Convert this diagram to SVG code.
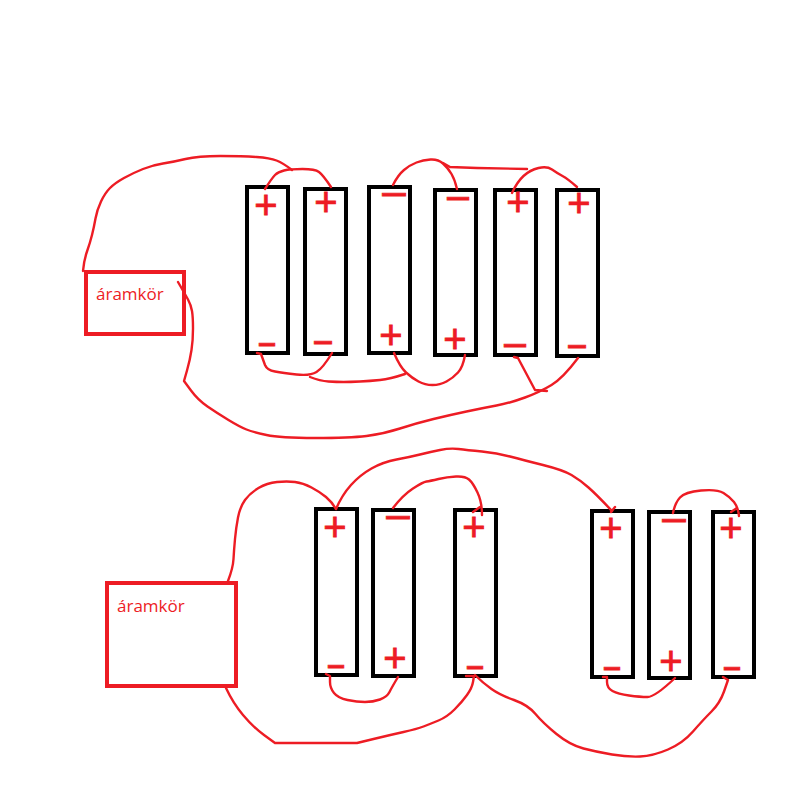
<svg xmlns="http://www.w3.org/2000/svg" width="800" height="794" viewBox="0 0 800 794">
<style>
.bg{fill:#fff}
.cell{fill:#fff;stroke:#000;stroke-width:4}
.box{fill:#fff;stroke:#ed1c24;stroke-width:4}
.sign{font-family:"Liberation Sans",Arial,sans-serif;font-size:40px;fill:#ed1c24;stroke:#ed1c24;stroke-width:.8;text-anchor:middle}
.label{font-family:"Open Sans","Noto Sans",sans-serif;font-size:17px;fill:#ed1c24}
.wire{fill:none;stroke:#ed1c24;stroke-width:2.4;stroke-linejoin:round;stroke-linecap:round}
</style>
<rect class="bg" width="800" height="794"/>
<g id="circuit-1"><rect class="box" x="86" y="272" width="98" height="62"/><text class="label" x="96" y="300">áramkör</text></g>
<g id="cell-1"><rect class="cell" x="247" y="187" width="41" height="166"/><text class="sign" x="266" y="219">+</text><text class="sign" x="267" y="358" textLength="19" lengthAdjust="spacingAndGlyphs">−</text></g>
<g id="cell-2"><rect class="cell" x="305" y="189" width="41" height="165"/><text class="sign" x="326" y="216">+</text><text class="sign" x="323" y="356" textLength="21" lengthAdjust="spacingAndGlyphs">−</text></g>
<g id="cell-3"><rect class="cell" x="369" y="187" width="41" height="166"/><text class="sign" x="394" y="208" textLength="28" lengthAdjust="spacingAndGlyphs">−</text><text class="sign" x="391" y="349">+</text></g>
<g id="cell-4"><rect class="cell" x="435" y="190" width="41" height="165"/><text class="sign" x="458" y="212" textLength="26" lengthAdjust="spacingAndGlyphs">−</text><text class="sign" x="455" y="353">+</text></g>
<g id="cell-5"><rect class="cell" x="495" y="190" width="41" height="165"/><text class="sign" x="518" y="216">+</text><text class="sign" x="515" y="359" textLength="26" lengthAdjust="spacingAndGlyphs">−</text></g>
<g id="cell-6"><rect class="cell" x="557" y="190" width="41" height="166"/><text class="sign" x="579" y="217">+</text><text class="sign" x="577" y="360" textLength="21" lengthAdjust="spacingAndGlyphs">−</text></g>
<g id="circuit-2"><rect class="box" x="107" y="583" width="129" height="103"/><text class="label" x="117" y="612">áramkör</text></g>
<g id="cell-7"><rect class="cell" x="316" y="509" width="41" height="166"/><text class="sign" x="335" y="541">+</text><text class="sign" x="336" y="680" textLength="19" lengthAdjust="spacingAndGlyphs">−</text></g>
<g id="cell-8"><rect class="cell" x="373" y="510" width="41" height="166"/><text class="sign" x="398" y="531" textLength="28" lengthAdjust="spacingAndGlyphs">−</text><text class="sign" x="395" y="672">+</text></g>
<g id="cell-9"><rect class="cell" x="455" y="510" width="41" height="166"/><text class="sign" x="474" y="541">+</text><text class="sign" x="475" y="681" textLength="19" lengthAdjust="spacingAndGlyphs">−</text></g>
<g id="cell-10"><rect class="cell" x="592" y="511" width="41" height="166"/><text class="sign" x="611" y="542">+</text><text class="sign" x="612" y="682" textLength="19" lengthAdjust="spacingAndGlyphs">−</text></g>
<g id="cell-11"><rect class="cell" x="649" y="512" width="41" height="166"/><text class="sign" x="674" y="534" textLength="28" lengthAdjust="spacingAndGlyphs">−</text><text class="sign" x="671" y="675">+</text></g>
<g id="cell-12"><rect class="cell" x="713" y="512" width="41" height="165"/><text class="sign" x="731" y="542">+</text><text class="sign" x="732" y="682" textLength="19" lengthAdjust="spacingAndGlyphs">−</text></g>
<g id="connectors">
<path class="wire" d="M83,271 Q84,260 87,251.5 Q90,243 92,235 Q94,227 95.5,218.5 Q97,210 101,201.5 Q105,193 110,188 Q115,183 124,178 Q133,173 143,169 Q153,165 163,163.5 Q173,162 185.5,159 Q198,156 220.5,156 Q243,156 256.5,157 Q270,158 276.5,160.5 Q283,163 292,170"/>
<path class="wire" d="M265,189 Q272,178 275,175 Q278,172 284,170.5 Q290,169 302.5,169 Q315,169 319,172 Q323,175 331,187"/>
<path class="wire" d="M178,282 Q185,294 188,299.5 Q191,305 192,311 Q193,317 193,328.5 Q193,340 191.5,350 Q190,360 187,370.5 L184,381 L191,390.5 Q198,400 207.5,406.5 Q217,413 228.5,420 Q240,427 246.5,429.5 Q253,432 266.5,435 Q280,438 315,438 Q350,438 366.5,436 Q383,434 400,428.5 Q417,423 433.5,419 Q450,415 466.5,411.5 Q483,408 496.5,405.5 Q510,403 525,397.5 Q540,392 551.5,385 Q563,378 578,358"/>
<path class="wire" d="M514,357 L518,358 L535,390 L547,391"/>
<path class="wire" d="M257,353 L261,354 L265,365 Q267,370 275,371.5 Q283,373 296.5,374.5 Q310,376 316.5,372 Q323,368 332,353"/>
<path class="wire" d="M310,377 Q320,381 328.5,381.5 Q337,382 343.5,382 Q350,382 360,381.5 Q370,381 380,380 Q390,379 405,374"/>
<path class="wire" d="M394,353 Q400,367 406,372.5 Q412,378 418.5,381.5 Q425,385 432.5,385 Q440,385 446.5,381.5 Q453,378 458,372.5 Q463,367 465,355"/>
<path class="wire" d="M393,185 Q398,175 404,170 Q410,165 416.5,162.5 Q423,160 430.5,159.5 Q438,159 443,163.5 Q448,168 451.5,174 Q455,180 457,189"/>
<path class="wire" d="M443,163 L450,167 L477,168 L527,169"/>
<path class="wire" d="M512,193 Q517,182 523.5,176 Q530,170 538.5,168 Q547,166 552,169.5 Q557,173 562.5,176 Q568,179 577,187"/>
<path class="wire" d="M228,581 Q233,568 233.5,559 Q234,550 235,539 Q236,528 238,517.5 Q240,507 245,500 Q250,493 258.5,488 Q267,483 277,482 Q287,481 295,482 Q303,483 311.5,487.5 Q320,492 326,497 Q332,502 336,509"/>
<path class="wire" d="M336,509 Q342,495 351,485 Q360,475 371.5,468.5 Q383,462 396.5,459.5 Q410,457 420,454.5 Q430,452 440,450 Q450,448 458.5,449 Q467,450 482,451.5 Q497,453 510,456.5 Q523,460 543,465 Q563,470 571.5,475 Q580,480 588.5,487.5 Q597,495 612,511"/>
<path class="wire" d="M393,508 Q403,495 413,488.5 Q423,482 426.5,481.5 Q430,481 438.5,479 Q447,477 456,476.5 Q465,476 469,479.5 Q473,483 477.5,492.5 Q482,502 482,515"/>
<path class="wire" d="M473,512 L480,507"/>
<path class="wire" d="M226,688 Q233,703 243,715 Q253,727 264,735 L275,743 L357,743 L373.5,739 Q390,735 403.5,732 Q417,729 423.5,726.5 Q430,724 438.5,720.5 Q447,717 454.5,709.5 Q462,702 467,695 Q472,688 473,682 L474,676 L466,676"/>
<path class="wire" d="M326,674 L330,676 L330,682 Q330,688 334,693 Q338,698 347.5,700 Q357,702 365,702 Q373,702 380,699.5 Q387,697 389.5,692 Q392,687 398,677"/>
<path class="wire" d="M475,675 Q483,683 491.5,689 Q500,695 514,700 Q528,705 535.5,714 Q543,723 556.5,734 Q570,745 583.5,748.5 Q597,752 612,754.5 Q627,757 640,756.5 Q653,756 668,749.5 Q683,743 693,731.5 Q703,720 711.5,711.5 Q720,703 724,691.5 L728,680 L723,677"/>
<path class="wire" d="M603,677 L607,677 L607,682 Q607,688 612.5,691 Q618,694 629,695.5 Q640,697 647.5,697 Q655,697 675,678"/>
<path class="wire" d="M673,513 Q675,503 680,497.5 Q685,492 701,490.5 Q717,489 723.5,493 Q730,497 734,502 Q738,507 739,516"/>
<path class="wire" d="M731,512 L737,508"/>
<path class="wire" d="M611,512 L615,507"/>
</g>
</svg>
